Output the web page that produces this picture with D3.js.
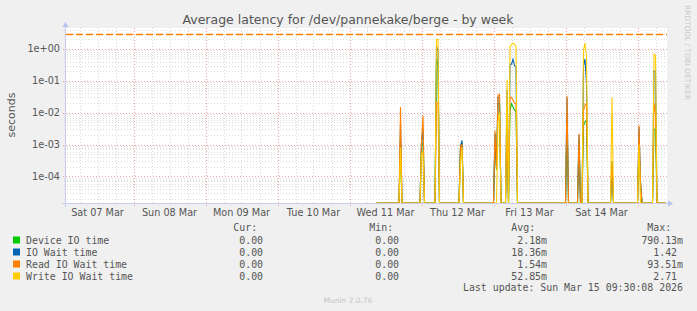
<!DOCTYPE html>
<html><head><meta charset="utf-8">
<script src="https://cdn.jsdelivr.net/npm/d3@7"></script>
<style>html,body{margin:0;padding:0;background:#f0f0f0;} svg{display:block}</style>
</head><body><svg id="c" width="697" height="311"></svg>
<script>
const chartTitle = "Average latency for /dev/pannekake/berge - by week";
const yAxisLabel = "seconds";
const sideLabel = "RRDTOOL / TOBI OETIKER";
const footerLabel = "Munin 2.0.76";
const lastUpdate = "Last update: Sun Mar 15 09:30:08 2026";
const seriesNames = ["Device IO time", "IO Wait time", "Read IO Wait time", "Write IO Wait time"];
const seriesColors = ["#00cc00", "#0066b3", "#ff8000", "#ffcc00"];
const legendHeaders = ["Cur:", "Min:", "Avg:", "Max:"];
const legendCur = ["0.00 ", "0.00 ", "0.00 ", "0.00 "];
const legendMin = ["0.00 ", "0.00 ", "0.00 ", "0.00 "];
const legendAvg = ["2.18m", "18.36m", "1.54m", "52.85m"];
const legendMax = ["790.13m", "1.42 ", "93.51m", "2.71 "];
const yTickValues = [1e-4, 1e-3, 1e-2, 1e-1, 1];
const yTickLabels = ["1e-04", "1e-03", "1e-02", "1e-01", "1e+00"];
const xTickDays = ["2026-03-07", "2026-03-08", "2026-03-09", "2026-03-10", "2026-03-11", "2026-03-12", "2026-03-13", "2026-03-14"];
const xTickLabels = ["Sat 07 Mar", "Sun 08 Mar", "Mon 09 Mar", "Tue 10 Mar", "Wed 11 Mar", "Thu 12 Mar", "Fri 13 Mar", "Sat 14 Mar"];
const timeStart = "2026-03-07 01:30";
const timeEnd = "2026-03-15 09:30";
const hruleValue = 3.0;

// 30-minute samples (zero = idle)
const sampleTimes = [
 "2026-03-11 09:00","2026-03-11 16:30","2026-03-11 17:00","2026-03-11 17:30",
 "2026-03-11 23:30","2026-03-12 00:00","2026-03-12 00:30","2026-03-12 01:00",
 "2026-03-12 04:30","2026-03-12 05:00","2026-03-12 05:30","2026-03-12 06:00",
 "2026-03-12 12:30","2026-03-12 13:00","2026-03-12 13:30","2026-03-12 14:00",
 "2026-03-13 00:00","2026-03-13 00:30","2026-03-13 01:00","2026-03-13 01:30","2026-03-13 02:00","2026-03-13 02:30",
 "2026-03-13 04:00","2026-03-13 04:30","2026-03-13 05:00",
 "2026-03-13 05:30","2026-03-13 06:00","2026-03-13 06:30","2026-03-13 07:00","2026-03-13 07:30","2026-03-13 08:00",
 "2026-03-14 00:00","2026-03-14 00:30","2026-03-14 01:00",
 "2026-03-14 04:00","2026-03-14 04:30","2026-03-14 05:00",
 "2026-03-14 05:30","2026-03-14 06:00","2026-03-14 06:30","2026-03-14 07:00","2026-03-14 07:30",
 "2026-03-14 15:00","2026-03-14 15:30","2026-03-14 16:00",
 "2026-03-15 00:00","2026-03-15 00:30","2026-03-15 01:00","2026-03-15 01:30",
 "2026-03-15 05:00","2026-03-15 05:30","2026-03-15 06:00","2026-03-15 06:30","2026-03-15 09:30"
];
const deviceIO = [
 0,0,1e-3,0,
 0,1e-3,1.1e-3,0,
 0,0.5,0.3,0,
 0,8e-4,1.2e-3,0,
 0,1.5e-3,1.6e-4,0.019,0.02,0,
 0,3e-3,0,
 0.012,0.019,0.015,0.012,0.011,0,
 0,8e-3,0,
 0,1.5e-3,0,
 0,4e-3,5e-3,6e-3,0,
 0,2e-4,0,
 0,1e-3,6e-5,0,
 0,3e-3,3e-3,0,0
];
const ioWait = [
 0,0,4e-3,0,
 0,1.2e-3,3e-3,0,
 0,1.2,0.9,0,
 0,9e-4,1.35e-3,0,
 0,2.2e-3,1.7e-4,0.03,0.03,0,
 0,0.05,0,
 0.33,0.33,0.47,0.3,0.26,0,
 0,0.03,0,
 0,2e-3,0,
 0,0.3,0.48,0.08,0,
 0,3e-4,0,
 0,3.5e-3,7e-5,0,
 0,0.2,0.2,0,0
];
const readWait = [
 0,0,0.015,0,
 0,1.3e-3,8e-3,0,
 0,0.021,0.02,0,
 0,9e-4,1e-3,0,
 0,2.7e-3,1.7e-4,0.036,0.037,0,
 0,5e-3,0,
 0.03,0.03,0.025,0.02,0.019,0,
 0,0.034,0,
 0,2.2e-3,0,
 0,0.012,0.017,0.02,0,
 0,3e-4,0,
 0,4e-3,7e-5,0,
 0,0.02,0.01,0,0
];
const writeWait = [
 0,0,8e-4,0,
 0,5e-4,6e-4,0,
 0,2.0,2.0,0,
 0,3e-4,8e-4,0,
 0,0,0,5e-3,0.01,0,
 0,0.11,0,
 1.2,1.35,1.5,1.4,1.2,0,
 0,0,0,
 0,0,0,
 0,0.9,1.5,0.6,0,
 0,0.03,0,
 0,1e-3,0,0,
 0,0.68,0.6,0,0
];
const seriesValues = [deviceIO, ioWait, readWait, writeWait];

const svg = d3.select("#c");
const parse = d3.utcParse("%Y-%m-%d %H:%M");
const parseDay = d3.utcParse("%Y-%m-%d");
const L = 66, R = 667, T = 28, B = 203;
const yMin = 1.47e-5, yMax = 4.5;

const x = d3.scaleUtc().domain([parse(timeStart), parse(timeEnd)]).range([L, 666]);
const y = d3.scaleLog().domain([yMin, yMax]).range([B, T]);

svg.append("rect").attr("width", 697).attr("height", 311).attr("fill", "#f0f0f0");
svg.append("rect").attr("x", L).attr("y", T).attr("width", R - L).attr("height", B - T).attr("fill", "#ffffff");

const grid = svg.append("g").attr("shape-rendering", "crispEdges");
// minor horizontal grid
const minorY = [];
for (let d = -5; d <= 0; d++) for (let m = 2; m <= 9; m++) { const v = m * Math.pow(10, d); if (v > yMin && v < yMax) minorY.push(v); }
grid.selectAll(".hmin").data(minorY).join("line")
  .attr("x1", L - 2).attr("x2", R).attr("y1", d => Math.round(y(d)) + 0.5).attr("y2", d => Math.round(y(d)) + 0.5)
  .attr("stroke", "#dcdcdc").attr("stroke-dasharray", "1,2");
// minor vertical grid (6h)
const minorX = d3.utcHour.every(6).range(x.domain()[0], x.domain()[1]).filter(t => t.getUTCHours() !== 0);
grid.selectAll(".vmin").data(minorX).join("line")
  .attr("x1", d => Math.round(x(d)) + 0.5).attr("x2", d => Math.round(x(d)) + 0.5).attr("y1", T).attr("y2", B + 2)
  .attr("stroke", "#d8d8d8").attr("stroke-dasharray", "1,2");
// major horizontal grid
grid.selectAll(".hmaj").data(yTickValues).join("line")
  .attr("x1", L - 3).attr("x2", R).attr("y1", d => Math.round(y(d)) + 0.5).attr("y2", d => Math.round(y(d)) + 0.5)
  .attr("stroke", "#e6a4a4").attr("stroke-dasharray", "1,2");
// major vertical grid (midnight)
const majorX = d3.utcDay.range(x.domain()[0], x.domain()[1]);
grid.selectAll(".vmaj").data(majorX).join("line")
  .attr("x1", d => Math.round(x(d)) + 0.5).attr("x2", d => Math.round(x(d)) + 0.5).attr("y1", T).attr("y2", B + 3)
  .attr("stroke", "#eaa0a0").attr("stroke-dasharray", "1,2");

// y tick labels
const fontAxis = "DejaVu Sans, sans-serif";
svg.selectAll(".ylab").data(yTickValues).join("text")
  .attr("x", 60).attr("y", d => y(d)).attr("dy", "0.36em").attr("text-anchor", "end")
  .attr("font-family", fontAxis).attr("font-size", 9.7).attr("fill", "#555")
  .text((d, i) => yTickLabels[i]);
// x tick labels at noon
svg.selectAll(".xlab").data(xTickDays).join("text")
  .attr("x", d => x(d3.utcHour.offset(parseDay(d), 12))).attr("y", 215.5).attr("text-anchor", "middle")
  .attr("font-family", fontAxis).attr("font-size", 9.7).attr("fill", "#555")
  .text((d, i) => xTickLabels[i]);

// HRULE
const hy = Math.round(y(hruleValue)) + 0.5;
svg.append("line").attr("x1", L).attr("x2", R).attr("y1", hy).attr("y2", hy)
  .attr("stroke", "#ff8000").attr("stroke-width", 1.4).attr("stroke-dasharray", "7,3");

// series lines
const times = sampleTimes.map(parse);
const line = d3.line().x(d => x(d.t)).y(d => y(Math.max(d.v, yMin)));
const plot = svg.append("g");
seriesValues.forEach((vals, i) => {
  const pts = times.map((t, j) => ({t, v: vals[j]}));
  plot.append("path").datum(pts).attr("d", line).attr("fill", "none")
    .attr("stroke", seriesColors[i]).attr("stroke-width", 1.1).attr("stroke-linejoin", "miter");
});

// axes
const axisColor = "#c8ccf2";
svg.append("line").attr("x1", L - 4).attr("x2", 669).attr("y1", B + 0.5).attr("y2", B + 0.5).attr("stroke", axisColor).attr("shape-rendering", "crispEdges");
svg.append("line").attr("x1", L - 0.5).attr("x2", L - 0.5).attr("y1", B + 4).attr("y2", 26).attr("stroke", axisColor).attr("shape-rendering", "crispEdges");
svg.append("path").attr("d", `M668,${B - 2.5}L673,${B + 0.5}L668,${B + 3.5}Z`).attr("fill", "#b8c0f4");
svg.append("path").attr("d", `M${L - 3.5},27L${L - 0.5},22L${L + 2.5},27Z`).attr("fill", "#b8c0f4");

// title
svg.append("text").attr("x", 348).attr("y", 24).attr("text-anchor", "middle")
  .attr("font-family", fontAxis).attr("font-size", 12.5).attr("fill", "#555").text(chartTitle);
// y label
svg.append("text").attr("transform", "translate(15,115) rotate(-90)").attr("text-anchor", "middle")
  .attr("font-family", fontAxis).attr("font-size", 11).attr("fill", "#555").text(yAxisLabel);
// side label
svg.append("text").attr("transform", "translate(685,5) rotate(90)").attr("text-anchor", "start")
  .attr("font-family", fontAxis).attr("font-size", 7.4).attr("fill", "#c8c8c8").text(sideLabel);

// legend
const mono = "DejaVu Sans Mono, monospace";
const lg = svg.append("g").attr("font-family", mono).attr("font-size", 9.9).attr("fill", "#555");
const colEnds = [269, 405, 547, 683];
legendHeaders.forEach((h, i) => {
  lg.append("text").attr("x", colEnds[i]).attr("y", 231).attr("text-anchor", "end").attr("xml:space", "preserve").text(h + "  ");
});
seriesNames.forEach((n, i) => {
  const yy = 240 + i * 12;
  lg.append("rect").attr("x", 13).attr("y", yy - 3.5).attr("width", 7).attr("height", 7).attr("fill", seriesColors[i]);
  lg.append("text").attr("x", 26).attr("y", yy + 3.5).text(n);
  [legendCur, legendMin, legendAvg, legendMax].forEach((arr, k) => {
    lg.append("text").attr("x", colEnds[k]).attr("y", yy + 3.5).attr("text-anchor", "end").attr("xml:space", "preserve").text(arr[i]);
  });
});
lg.append("text").attr("x", 683).attr("y", 291).attr("text-anchor", "end").text(lastUpdate);
svg.append("text").attr("x", 348).attr("y", 302.5).attr("text-anchor", "middle")
  .attr("font-family", fontAxis).attr("font-size", 7.5).attr("fill", "#c4c4c4").text(footerLabel);
</script></body></html>
